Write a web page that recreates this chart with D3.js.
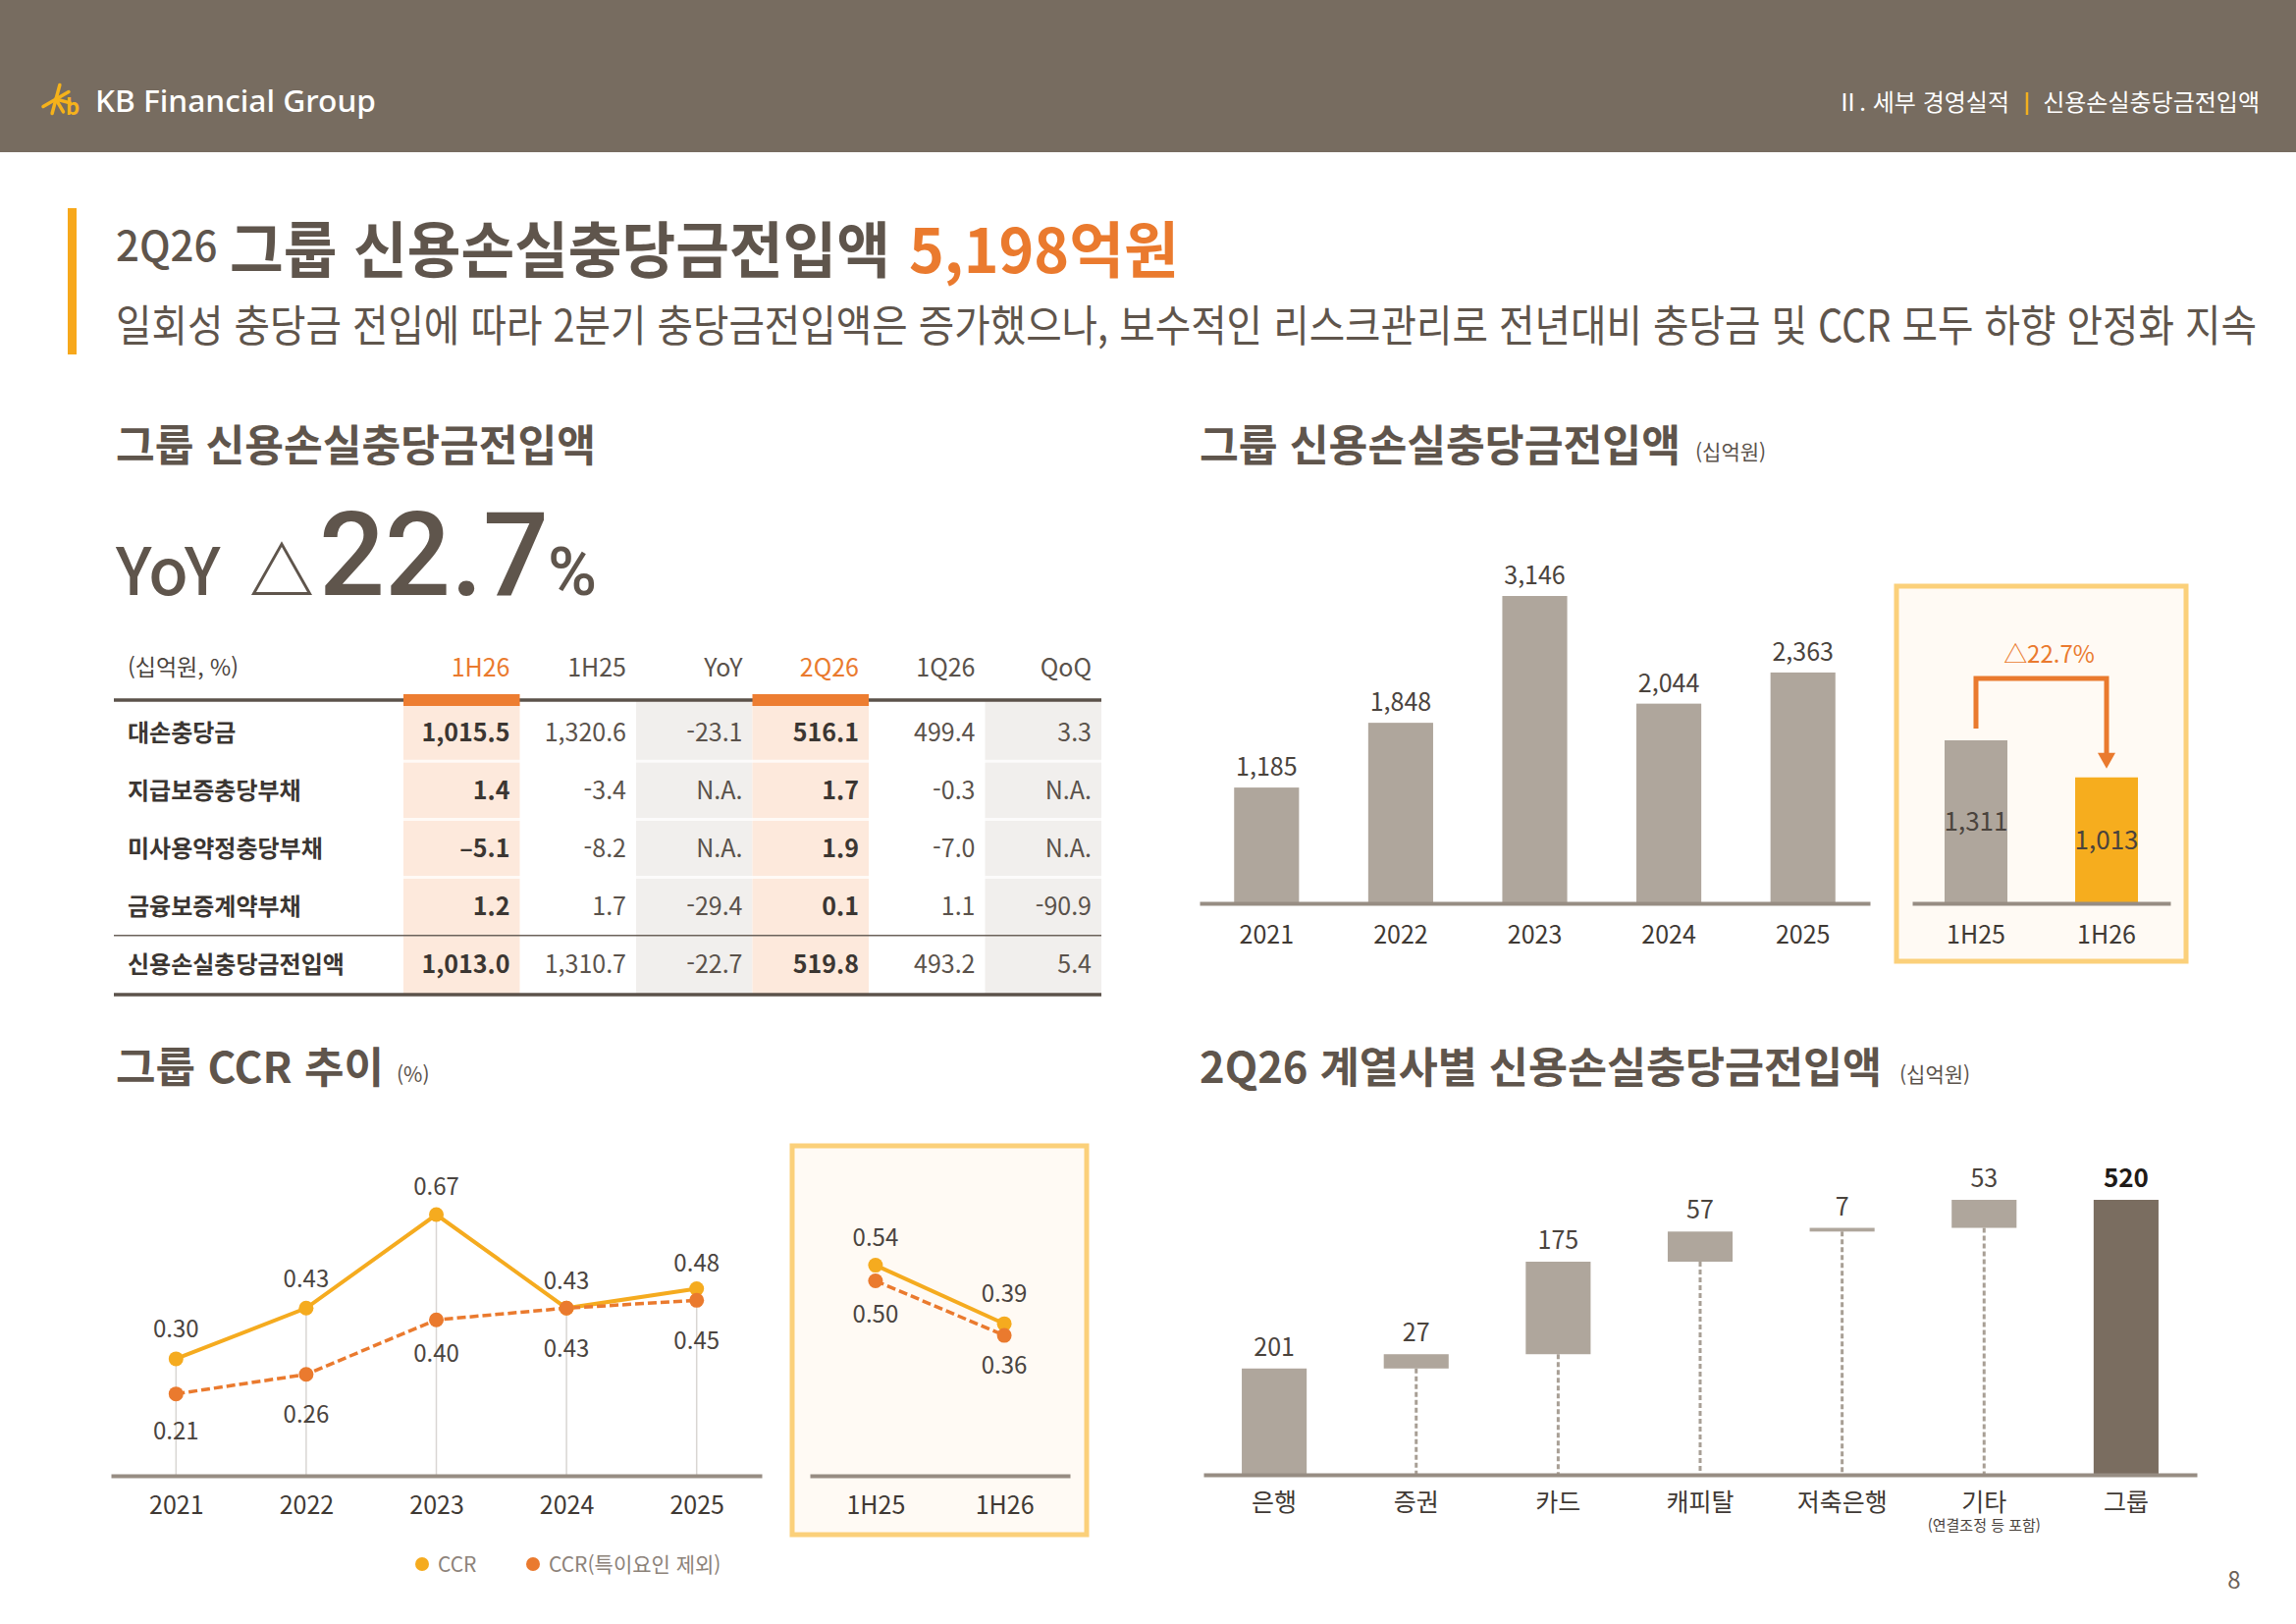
<!DOCTYPE html>
<html lang="ko">
<head>
<meta charset="UTF-8">
<title>그룹 신용손실충당금전입액</title>
<script src="https://d3js.org/d3.v7.min.js"></script>
<style>
  body { margin: 0; background: #fff; overflow: hidden; }
  svg { display: block; font-family: "Noto Sans CJK KR", "Noto Sans", sans-serif; }
  .axis path { stroke: #978d83; stroke-width: 4; }
  .axis text { font-family: "Noto Sans CJK KR", "Noto Sans", sans-serif; font-size: 25px; fill: #3f3934; }
</style>
</head>
<body>
<div id="chart"></div>
<script>
// ---- data ----
const annualYears = ["2021", "2022", "2023", "2024", "2025"];
const annualProvision = [1185, 1848, 3146, 2044, 2363];   // 십억원
const halfPeriods = ["1H25", "1H26"];
const halfProvision = [1311, 1013];
const halfChangeLabel = "△22.7%";

const tableColumns = ["1H26", "1H25", "YoY", "2Q26", "1Q26", "QoQ"];
const tableRows = ["대손충당금", "지급보증충당부채", "미사용약정충당부채", "금융보증계약부채", "신용손실충당금전입액"];
const tableValues = [
  ["1,015.5", "1,320.6", "-23.1", "516.1", "499.4", "3.3"],
  ["1.4", "-3.4", "N.A.", "1.7", "-0.3", "N.A."],
  ["–5.1", "-8.2", "N.A.", "1.9", "-7.0", "N.A."],
  ["1.2", "1.7", "-29.4", "0.1", "1.1", "-90.9"],
  ["1,013.0", "1,310.7", "-22.7", "519.8", "493.2", "5.4"]
];

const ccrAnnual = [0.30, 0.43, 0.67, 0.43, 0.48];
const ccrExAnnual = [0.21, 0.26, 0.40, 0.43, 0.45];
const ccrHalf = [0.54, 0.39];
const ccrExHalf = [0.50, 0.36];
const legendLabels = ["CCR", "CCR(특이요인 제외)"];

const affiliates = ["은행", "증권", "카드", "캐피탈", "저축은행", "기타", "그룹"];
const affiliateValues = [201, 27, 175, 57, 7, 53, 520];   // last one is the group total

const subtitle = "일회성 충당금 전입에 따라 2분기 충당금전입액은 증가했으나, 보수적인 리스크관리로 전년대비 충당금 및 CCR 모두 하향 안정화 지속";

// ---- colours ----
const C = {
  header: "#776c60", title: "#5f554c", text: "#433c37", soft: "#5a524b",
  bar: "#afa69c", dark: "#7a6d60", yellow: "#f5ab1f", gold: "#f6ad1e",
  orange: "#ea7a2e", boxLine: "#fbd07a", boxFill: "#fffaf4"
};

const svg = d3.select("#chart").append("svg")
  .attr("width", 2339)
  .attr("height", 1654);

function txt(parent, x, y, s, size, o = {}) {
  const t = parent.append("text")
    .attr("x", x).attr("y", y)
    .attr("fill", o.fill || C.text)
    .attr("text-anchor", o.anchor || "start")
    .style("font-size", size + "px")
    .style("font-weight", o.weight || 400)
    .text(s);
  if (o.len) t.attr("textLength", o.len).attr("lengthAdjust", "spacingAndGlyphs");
  return t;
}

// ---- header band ----
svg.append("rect").attr("width", 2339).attr("height", 155).attr("fill", C.header);
const logo = svg.append("g").attr("transform", "translate(57,101)");
[-75, -30, 15, 60, 105, 150].forEach(a => {
  const r = a * Math.PI / 180;
  logo.append("line")
    .attr("x1", 0).attr("y1", 0)
    .attr("x2", 15 * Math.cos(r)).attr("y2", 15 * Math.sin(r))
    .attr("stroke", "#f5b21b").attr("stroke-width", 3.5).attr("stroke-linecap", "round");
});
txt(logo, 10, 16, "b", 22, { fill: "#f5b21b", weight: 700 });
txt(svg, 97, 114, "KB Financial Group", 31, { fill: "#fff", weight: 500, len: 286 })
  .style("font-family", '"Noto Sans", sans-serif');
txt(svg, 2302, 113, "신용손실충당금전입액", 24, { fill: "#fff", anchor: "end" });
svg.append("line").attr("x1", 2065).attr("x2", 2065).attr("y1", 94).attr("y2", 117)
  .attr("stroke", "#f2b01e").attr("stroke-width", 2.5);
txt(svg, 2047, 113, "Ⅱ. 세부 경영실적", 24, { fill: "#fff", anchor: "end" });

// ---- page title ----
svg.append("rect").attr("x", 69).attr("y", 212).attr("width", 9).attr("height", 149).attr("fill", "#f7a81b");
txt(svg, 118, 266, "2Q26", 42, { fill: C.title, weight: 500 });
txt(svg, 234, 278, "그룹 신용손실충당금전입액", 62, { fill: C.title, weight: 700, len: 673 });
txt(svg, 926, 278, "5,198억원", 62, { fill: C.orange, weight: 700, len: 275 });
// subtitle: a smaller size stretched vertically, so the line keeps its natural width inside the page
svg.append("text")
  .attr("transform", "translate(118,348) scale(1,1.15)")
  .attr("fill", C.title)
  .style("font-size", "39px")
  .attr("textLength", 2181).attr("lengthAdjust", "spacingAndGlyphs")
  .text(subtitle);

// ---- section titles ----
txt(svg, 118, 470, "그룹 신용손실충당금전입액", 44, { fill: C.title, weight: 700, len: 489 });
txt(svg, 1222, 470, "그룹 신용손실충당금전입액", 44, { fill: C.title, weight: 700, len: 490 });
txt(svg, 1727, 468, "(십억원)", 21, { fill: C.soft });
txt(svg, 118, 1103, "그룹 CCR 추이", 43, { fill: C.title, weight: 700, len: 273 });
txt(svg, 404, 1102, "(%)", 21, { fill: C.soft });
txt(svg, 1222, 1103, "2Q26 계열사별 신용손실충당금전입액", 43, { fill: C.title, weight: 700, len: 695 });
txt(svg, 1935, 1102, "(십억원)", 21, { fill: C.soft });

// ---- YoY headline ----
txt(svg, 118, 606, "YoY", 66, { fill: C.title, weight: 500 });
txt(svg, 254, 606, "△", 66, { fill: C.title, weight: 700 });
txt(svg, 325, 606, "22.7", 118, { fill: C.title, weight: 500 }).style("font-family", "Roboto, sans-serif");
txt(svg, 558, 606, "%", 68, { fill: C.title, weight: 500 }).style("font-family", "Roboto, sans-serif");

// ---- table ----
const colX = d3.scaleBand().domain(tableColumns).range([411, 1122]);
const rowY = d3.scaleBand().domain(tableRows).range([716, 1012]);
const hotCols = ["1H26", "2Q26"], greyCols = ["YoY", "QoQ"];
const table = svg.append("g");

table.selectAll(".band")
  .data(tableColumns.filter(c => hotCols.includes(c) || greyCols.includes(c)))
  .enter().append("rect")
  .attr("x", c => colX(c)).attr("width", colX.bandwidth())
  .attr("y", 714).attr("height", 1012 - 714)
  .attr("fill", c => hotCols.includes(c) ? "#fde9dc" : "#f1efed");

table.selectAll(".sep")
  .data(tableRows.slice(0, 3))
  .enter().append("line")
  .attr("x1", 411).attr("x2", 1122)
  .attr("y1", r => rowY(r) + rowY.bandwidth()).attr("y2", r => rowY(r) + rowY.bandwidth())
  .attr("stroke", "#fff").attr("stroke-opacity", 0.75).attr("stroke-width", 3);

table.append("line").attr("x1", 116).attr("x2", 1122).attr("y1", 713).attr("y2", 713)
  .attr("stroke", "#5b524a").attr("stroke-width", 3.5);
table.selectAll(".cap")
  .data(hotCols).enter().append("rect")
  .attr("x", c => colX(c)).attr("width", colX.bandwidth())
  .attr("y", 707).attr("height", 12).attr("fill", "#ed7d31");
const lastRow = tableRows[tableRows.length - 1];
table.append("line").attr("x1", 116).attr("x2", 1122).attr("y1", rowY(lastRow)).attr("y2", rowY(lastRow))
  .attr("stroke", "#6b625a").attr("stroke-width", 1.5);
table.append("line").attr("x1", 116).attr("x2", 1122).attr("y1", 1013).attr("y2", 1013)
  .attr("stroke", "#5b524a").attr("stroke-width", 3.5);

txt(table, 130, 688, "(십억원, %)", 23, { fill: "#4a433d" });
tableColumns.forEach(c => {
  txt(table, colX(c) + colX.bandwidth() - 10, 689, c, 25,
    { anchor: "end", fill: hotCols.includes(c) ? C.orange : C.soft });
});
tableRows.forEach((r, i) => {
  const cy = rowY(r) + rowY.bandwidth() / 2 + 9;
  txt(table, 130, cy, r, 24, { fill: "#3b3632", weight: 700 });
  tableColumns.forEach((c, j) => {
    const hot = hotCols.includes(c);
    txt(table, colX(c) + colX.bandwidth() - 10, cy, tableValues[i][j], 25,
      { anchor: "end", fill: hot ? "#3b3632" : C.soft, weight: hot ? 700 : 400 });
  });
});

// ---- annual provision bars ----
const xA = d3.scaleBand().domain(annualYears).range([1222, 1905]).paddingInner(0.516).paddingOuter(0.258);
const yA = d3.scaleLinear().domain([0, d3.max(annualProvision)]).range([920, 607]);
const annual = svg.append("g");
annual.selectAll("rect").data(annualYears).enter().append("rect")
  .attr("x", d => xA(d)).attr("width", xA.bandwidth())
  .attr("y", (d, i) => yA(annualProvision[i]))
  .attr("height", (d, i) => yA(0) - yA(annualProvision[i]))
  .attr("fill", C.bar);
annual.selectAll(".val").data(annualProvision).enter().append("text")
  .attr("x", (d, i) => xA(annualYears[i]) + xA.bandwidth() / 2)
  .attr("y", d => yA(d) - 12)
  .attr("text-anchor", "middle").attr("fill", "#4a433d").style("font-size", "25px")
  .text(d => d3.format(",")(d));
annual.append("g").attr("class", "axis").attr("transform", "translate(0,920)")
  .call(d3.axisBottom(xA).tickSize(0).tickSizeOuter(0))
  .call(g => g.selectAll("text").attr("dy", null).attr("y", 41));

// ---- half-year comparison ----
svg.append("rect").attr("x", 1932).attr("y", 597).attr("width", 295).attr("height", 382)
  .attr("fill", C.boxFill).attr("stroke", C.boxLine).attr("stroke-width", 5);
const xH = d3.scaleBand().domain(halfPeriods).range([1948, 2211]).paddingInner(0.519).paddingOuter(0.248);
const yH = d3.scaleLinear().domain([0, d3.max(halfProvision)]).range([920, 754]);
const half = svg.append("g");
half.selectAll("rect").data(halfPeriods).enter().append("rect")
  .attr("x", d => xH(d)).attr("width", xH.bandwidth())
  .attr("y", (d, i) => yH(halfProvision[i]))
  .attr("height", (d, i) => yH(0) - yH(halfProvision[i]))
  .attr("fill", (d, i) => i === 1 ? C.gold : C.bar);
half.selectAll(".val").data(halfProvision).enter().append("text")
  .attr("x", (d, i) => xH(halfPeriods[i]) + xH.bandwidth() / 2)
  .attr("y", d => (yH(d) + yH(0)) / 2 + 9)
  .attr("text-anchor", "middle").attr("fill", "#4a433d").style("font-size", "26px")
  .text(d => d3.format(",")(d));
half.append("g").attr("class", "axis").attr("transform", "translate(0,920)")
  .call(d3.axisBottom(xH).tickSize(0).tickSizeOuter(0))
  .call(g => g.selectAll("text").attr("dy", null).attr("y", 41));

// bracket arrow 1H25 -> 1H26
const ax1 = xH(halfPeriods[0]) + xH.bandwidth() / 2;
const ax2 = xH(halfPeriods[1]) + xH.bandwidth() / 2;
const topY = yH(d3.max(halfProvision)) - 63;
const tipY = yH(halfProvision[1]) - 9;
half.append("path")
  .attr("d", `M${ax1},${yH(halfProvision[0]) - 12}V${topY}H${ax2}V${tipY - 14}`)
  .attr("fill", "none").attr("stroke", C.orange).attr("stroke-width", 5);
half.append("path")
  .attr("d", `M${ax2 - 9},${tipY - 16}L${ax2 + 9},${tipY - 16}L${ax2},${tipY}Z`)
  .attr("fill", C.orange);
txt(half, (ax1 + ax2) / 2 + 8, topY - 16, halfChangeLabel, 24, { fill: C.orange, anchor: "middle" });

// ---- CCR trend ----
const xC = d3.scalePoint().domain(annualYears).range([113, 776]).padding(0.5);
const yC = d3.scaleLinear().domain([0, 0.8]).range([1503, 1503 - 0.8 * 397]);
const ccr = svg.append("g");
const lineGen = (xs, keys) => d3.line().x((d, i) => xs(keys[i])).y(d => yC(d));

ccr.selectAll(".grid").data(annualYears).enter().append("line")
  .attr("x1", d => xC(d)).attr("x2", d => xC(d))
  .attr("y1", (d, i) => yC(Math.max(ccrAnnual[i], ccrExAnnual[i]))).attr("y2", yC(0))
  .attr("stroke", "#d9d6d3").attr("stroke-width", 1.5);
ccr.append("g").attr("class", "axis").attr("transform", "translate(0,1503)")
  .call(d3.axisBottom(xC).tickSize(0).tickSizeOuter(0))
  .call(g => g.selectAll("text").attr("dy", null).attr("y", 39));

svg.append("rect").attr("x", 807).attr("y", 1167).attr("width", 300).attr("height", 396)
  .attr("fill", C.boxFill).attr("stroke", C.boxLine).attr("stroke-width", 5);
const xCH = d3.scalePoint().domain(halfPeriods).range([825, 1090]).padding(0.51);
const ccrH = svg.append("g");
ccrH.append("g").attr("class", "axis").attr("transform", "translate(0,1503)")
  .call(d3.axisBottom(xCH).tickSize(0).tickSizeOuter(0))
  .call(g => g.selectAll("text").attr("dy", null).attr("y", 39));

function drawSeries(g, xs, keys, vals, color, dashed, labelDy) {
  g.append("path").datum(vals)
    .attr("d", lineGen(xs, keys))
    .attr("fill", "none").attr("stroke", color)
    .attr("stroke-width", dashed ? 3.5 : 4)
    .attr("stroke-dasharray", dashed ? "9,4" : null);
  return () => {
    g.selectAll(null).data(vals).enter().append("circle")
      .attr("cx", (d, i) => xs(keys[i])).attr("cy", d => yC(d))
      .attr("r", 7.5).attr("fill", color);
    g.selectAll(null).data(vals).enter().append("text")
      .attr("x", (d, i) => xs(keys[i]))
      .attr("y", (d, i) => yC(d) + labelDy[i])
      .attr("text-anchor", "middle").attr("fill", "#4a4440").style("font-size", "24px")
      .text(d => d.toFixed(2));
  };
}
const m1 = drawSeries(ccr, xC, annualYears, ccrAnnual, C.yellow, false, [-22, -21, -20, -19, -17]);
const m2 = drawSeries(ccr, xC, annualYears, ccrExAnnual, C.orange, true, [46, 49, 43, 50, 50]);
m1(); m2();
const m3 = drawSeries(ccrH, xCH, halfPeriods, ccrHalf, C.yellow, false, [-20, -22]);
const m4 = drawSeries(ccrH, xCH, halfPeriods, ccrExHalf, C.orange, true, [42, 39]);
m3(); m4();

// legend
const legend = svg.append("g");
[[430, C.yellow], [543, C.orange]].forEach(([lx, col], i) => {
  legend.append("circle").attr("cx", lx).attr("cy", 1593).attr("r", 7).attr("fill", col);
  txt(legend, lx + 16, 1601, legendLabels[i], 21, { fill: "#8c8279" });
});

// ---- affiliate waterfall ----
const xW = d3.scaleBand().domain(affiliates).range([1226, 2238]).paddingInner(0.543).paddingOuter(0.27);
const total = affiliateValues[affiliateValues.length - 1];
const yW = d3.scaleLinear().domain([0, total]).range([1502, 1222]);
let run = 0;
const steps = affiliateValues.map((v, i) => {
  if (i === affiliateValues.length - 1) return { cat: affiliates[i], v, start: 0, end: v, total: true };
  const s = { cat: affiliates[i], v, start: run, end: run + v, total: false };
  run += v;
  return s;
});
const wf = svg.append("g");
wf.selectAll(".conn").data(steps.filter(d => d.start > 0)).enter().append("line")
  .attr("x1", d => xW(d.cat) + xW.bandwidth() / 2).attr("x2", d => xW(d.cat) + xW.bandwidth() / 2)
  .attr("y1", d => yW(d.start)).attr("y2", yW(0))
  .attr("stroke", "#a89f95").attr("stroke-width", 3).attr("stroke-dasharray", "5,3");
wf.selectAll("rect").data(steps).enter().append("rect")
  .attr("x", d => xW(d.cat)).attr("width", xW.bandwidth())
  .attr("y", d => yW(d.end)).attr("height", d => Math.max(3, yW(d.start) - yW(d.end)))
  .attr("fill", d => d.total ? C.dark : C.bar);
wf.selectAll(".val").data(steps).enter().append("text")
  .attr("x", d => xW(d.cat) + xW.bandwidth() / 2)
  .attr("y", d => yW(d.end) - 13)
  .attr("text-anchor", "middle")
  .attr("fill", d => d.total ? "#1f1b18" : "#4a433d")
  .style("font-size", d => d.total ? "26px" : "25px")
  .style("font-weight", d => d.total ? 700 : 400)
  .text(d => d.v);
wf.append("g").attr("class", "axis").attr("transform", "translate(0,1502)")
  .call(d3.axisBottom(xW).tickSize(0).tickSizeOuter(0))
  .call(g => g.selectAll("text").attr("dy", null).attr("y", 37));
txt(wf, xW("기타") + xW.bandwidth() / 2, 1559, "(연결조정 등 포함)", 15, { anchor: "middle", fill: "#4a433d" });

// page number
txt(svg, 2276, 1618, "8", 24, { anchor: "middle", fill: "#6b625a" });
</script>
</body>
</html>
